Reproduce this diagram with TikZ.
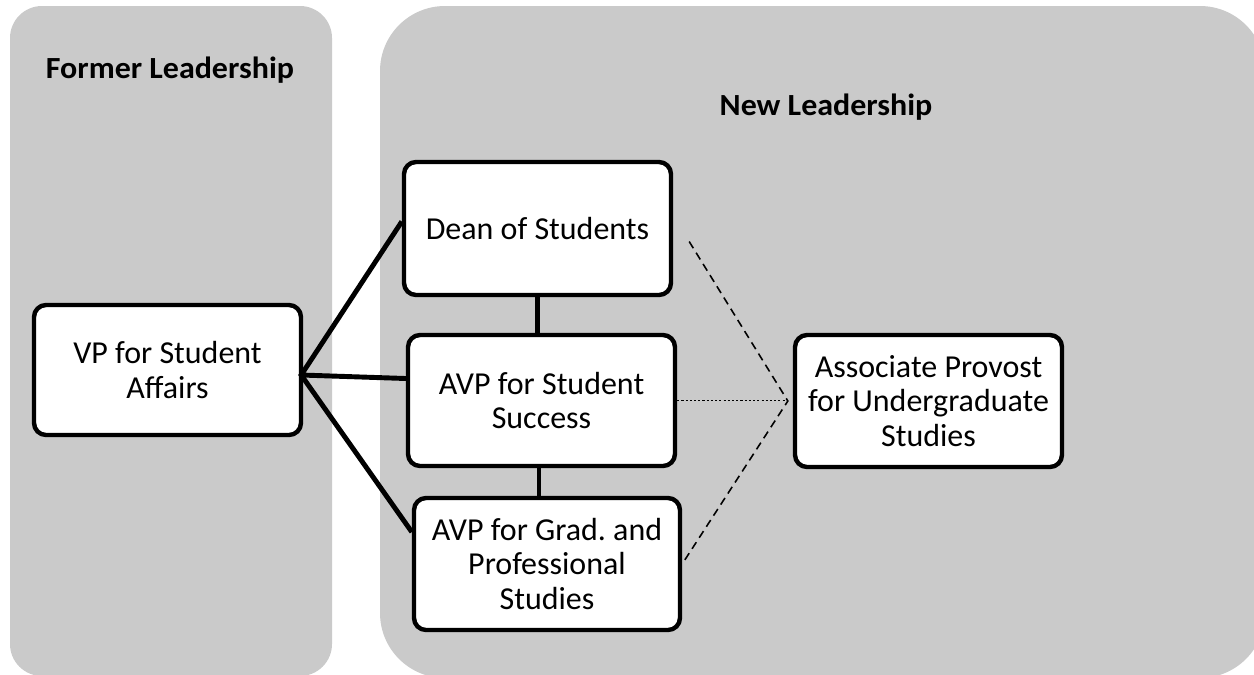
\documentclass[tikz,border=0pt]{standalone}
\usepackage{fontspec}
\setmainfont{Carlito}
\newfontfamily\headfont{Carlito}[FakeStretch=1.04]
\usetikzlibrary{calc}
\definecolor{panelgray}{RGB}{202,202,202}
\tikzset{
  panel/.style={fill=panelgray, draw=none},
  orgbox/.style={draw=black, fill=white, line width=2.5pt, rounded corners=0.24cm,
    align=center, inner sep=0pt, font=\fontsize{18.2}{19.6}\selectfont},
  heading/.style={font=\headfont\fontsize{17.5}{20}\selectfont\bfseries, inner sep=0pt, anchor=base},
  solidlink/.style={line width=2.8pt},
  dashlink/.style={line width=0.9pt, dash pattern=on 4.5pt off 3pt},
  dotlink/.style={line width=0.6pt, dash pattern=on 1.2pt off 1.2pt}
}
\frenchspacing
\begin{document}
\begin{tikzpicture}[x=0.02cm, y=-0.02cm]
\useasboundingbox (0,0) rectangle (1254,674);
\begin{scope}
\clip (0,0) rectangle (1254,674);
\fill[panel, rounded corners=0.64cm] (10,6) rectangle (332,676);
\fill[panel, rounded corners=1.3cm] (380,6) rectangle (1265,678);
\end{scope}

\node[heading] (formerhead) at (170,78) {Former Leadership};
\node[heading] (newhead) at (826,115) {New Leadership};

\node[orgbox, minimum width=5.34cm, minimum height=2.60cm] (vp) at (167.5,370) {VP for Student\\Affairs};
\node[orgbox, minimum width=5.34cm, minimum height=2.66cm] (dean) at (537.5,228.5) {Dean of Students};
\node[orgbox, minimum width=5.34cm, minimum height=2.62cm] (succ) at (541.5,400.5) {AVP for Student\\Success};
\node[orgbox, minimum width=5.32cm, minimum height=2.64cm] (grad) at (547,564) {AVP for Grad. and\\Professional\\Studies};
\node[orgbox, minimum width=5.34cm, minimum height=2.64cm] (assoc) at (928.5,401) {Associate Provost\\for Undergraduate\\Studies};

\coordinate (fan) at ($(vp.east)+(-2,5)$);
\coordinate (join) at ($(assoc.west)+(-5,0)$);

\draw[solidlink, line join=miter] ($(dean.west)+(0,-7)$) -- (fan) -- ($(grad.west)+(0,-32)$);
\draw[solidlink] (fan) -- ($(succ.west)+(0,-22)$);
\draw[solidlink] (dean.south) -- (dean.south |- succ.north);
\draw[solidlink] (succ.south -| grad.north) ++(-8,0) coordinate (gtop) -- (gtop |- grad.north);

\draw[dashlink] ($(dean.east)+(16,13)$) -- (join) -- (grad.east);
\draw[dotlink] (succ.east) -- (succ.east -| join);
\end{tikzpicture}
\end{document}
